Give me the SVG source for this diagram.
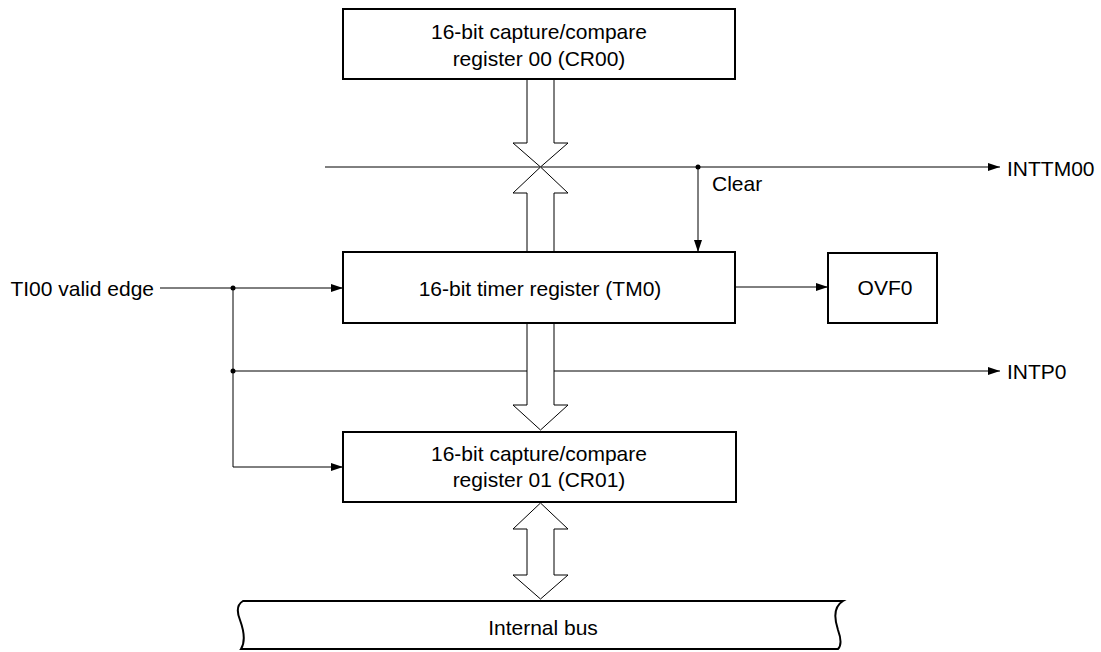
<svg xmlns="http://www.w3.org/2000/svg" width="1101" height="652" viewBox="0 0 1101 652">
<style>
.box{fill:#fff;stroke:#000;stroke-width:2}
.ln{fill:none;stroke:#000;stroke-width:1}
.big{fill:#fff;stroke:#000;stroke-width:1}
text{font-family:"Liberation Sans",Arial,sans-serif;font-size:21px;fill:#000}
.c{text-anchor:middle}
</style>
<defs>
<marker id="ah" markerWidth="12" markerHeight="8" refX="12" refY="4" orient="auto" markerUnits="userSpaceOnUse">
<path d="M0,0 L12,4 L0,8 Z" fill="#000"/>
</marker>
</defs>
<g id="connectors">
<path class="ln" d="M325,167 H1000" marker-end="url(#ah)"/>
<path class="ln" d="M698,167 V252" marker-end="url(#ah)"/>
<circle cx="698" cy="167" r="2.5"/>
<path class="ln" d="M160,288 H343" marker-end="url(#ah)"/>
<circle cx="233" cy="288" r="2.5"/>
<path class="ln" d="M233,288 V467 H343" marker-end="url(#ah)"/>
<path class="ln" d="M233,371 H1000" marker-end="url(#ah)"/>
<circle cx="233" cy="371" r="2.5"/>
<path class="ln" d="M735,287 H828" marker-end="url(#ah)"/>
<polygon class="big" points="527,79 554,79 554,143 568,143 540.5,167 513,143 527,143"/>
<polygon class="big" points="527,252 554,252 554,193 568,193 540.5,167 513,193 527,193"/>
<polygon class="big" points="527,323 554,323 554,405 568,405 540.5,430 513,405 527,405"/>
<polygon class="big" points="540.5,503 568,529 554,529 554,575 568,575 540.5,599 513,575 527,575 527,529 513,529"/>
</g>
<g id="cr00">
<rect class="box" x="343" y="9" width="392" height="70"/>
<text class="c" x="539" y="39">16-bit capture/compare</text>
<text class="c" x="539" y="66">register 00 (CR00)</text>
</g>
<g id="tm0">
<rect class="box" x="343" y="252" width="392" height="71"/>
<text class="c" x="540" y="296">16-bit timer register (TM0)</text>
</g>
<g id="ovf0">
<rect class="box" x="828" y="253" width="109" height="70"/>
<text class="c" x="885" y="295">OVF0</text>
</g>
<g id="cr01">
<rect class="box" x="343" y="432" width="393" height="70"/>
<text class="c" x="539" y="461">16-bit capture/compare</text>
<text class="c" x="539" y="487">register 01 (CR01)</text>
</g>
<g id="bus">
<path class="box" d="M243,601 L843,601 C833,607 834,618 838,630 C842,641 841,646 838,649 L241,649 C246,641 244,631 240,620 C236,610 238,604 243,601 Z"/>
<text class="c" x="543" y="635">Internal bus</text>
</g>
<g id="labels">
<text x="1007" y="176">INTTM00</text>
<text x="1007" y="379">INTP0</text>
<text x="712" y="191">Clear</text>
<text x="154" y="296" text-anchor="end">TI00 valid edge</text>
</g>
</svg>
